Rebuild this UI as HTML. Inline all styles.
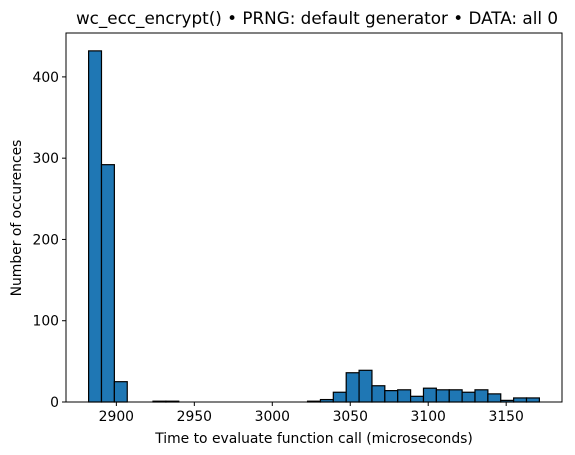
<!DOCTYPE html>
<html><head><meta charset="utf-8"><style>
html,body{margin:0;padding:0;background:#fff;width:575px;height:455px;overflow:hidden}
svg{display:block;font-family:"DejaVu Sans","Liberation Sans",sans-serif}
</style></head><body>
<svg id="chart" width="575" height="455" viewBox="0 0 575 455" xmlns="http://www.w3.org/2000/svg">
<text x="317" y="24" text-anchor="middle" font-size="16.8" fill="#000">wc_ecc_encrypt() • PRNG: default generator • DATA: all 0</text>
<g id="bars"></g>
<g id="axes"></g>
<text x="314" y="443" text-anchor="middle" font-size="13.9" fill="#000">Time to evaluate function call (microseconds)</text>
<text transform="translate(21,218) rotate(-90)" text-anchor="middle" font-size="13.9" fill="#000">Number of occurences</text>
</svg>
<script>
const binStart = 2882.2;
const binWidth = 8.26;
const counts = [432,292,25,0,0,1,1,0,0,0,0,0,0,0,0,0,0,1,3,12,36,39,20,14,15,7,17,15,15,12,15,10,2,5,5];
const xTicks = [2900,2950,3000,3050,3100,3150];
const yTicks = [0,100,200,300,400];

const L=66,R=562,T=33,B=402;
const xMin=2867.7,xMax=3185.8,yMax=454;
const xs=v=>L+(v-xMin)/(xMax-xMin)*(R-L);
const ys=v=>B-v/yMax*(B-T);
const NS="http://www.w3.org/2000/svg";
const bars=document.getElementById('bars');
counts.forEach((c,i)=>{
  if(c<=0) return;
  const r=document.createElementNS(NS,'rect');
  const x0=xs(binStart+i*binWidth),x1=xs(binStart+(i+1)*binWidth);
  r.setAttribute('x',x0);r.setAttribute('width',x1-x0);
  r.setAttribute('y',ys(c));r.setAttribute('height',B-ys(c));
  r.setAttribute('fill','#1f77b4');r.setAttribute('stroke','#000');r.setAttribute('stroke-width','1.2');
  
  
  bars.appendChild(r);
});
const ax=document.getElementById('axes');
const frame=document.createElementNS(NS,'rect');
frame.setAttribute('x',L);frame.setAttribute('y',T);frame.setAttribute('width',R-L);frame.setAttribute('height',B-T);
frame.setAttribute('fill','none');frame.setAttribute('stroke','#000');frame.setAttribute('stroke-width','1');


ax.appendChild(frame);
xTicks.forEach(v=>{
  const x=xs(v);
  const l=document.createElementNS(NS,'line');
  l.setAttribute('x1',x);l.setAttribute('x2',x);l.setAttribute('y1',B);l.setAttribute('y2',B+4);l.setAttribute('stroke','#000');
  
  
  ax.appendChild(l);
  const t=document.createElementNS(NS,'text');
  t.setAttribute('x',x);t.setAttribute('y',B+19);t.setAttribute('text-anchor','middle');t.setAttribute('font-size','13.9');
  t.textContent=v;
  
  
  ax.appendChild(t);
});
yTicks.forEach(v=>{
  const y=ys(v);
  const l=document.createElementNS(NS,'line');
  l.setAttribute('x1',L-4);l.setAttribute('x2',L);l.setAttribute('y1',y);l.setAttribute('y2',y);l.setAttribute('stroke','#000');
  
  
  ax.appendChild(l);
  const t=document.createElementNS(NS,'text');
  t.setAttribute('x',L-7);t.setAttribute('y',y+5);t.setAttribute('text-anchor','end');t.setAttribute('font-size','13.9');
  t.textContent=v;
  
  
  ax.appendChild(t);
});
</script>
</body></html>
